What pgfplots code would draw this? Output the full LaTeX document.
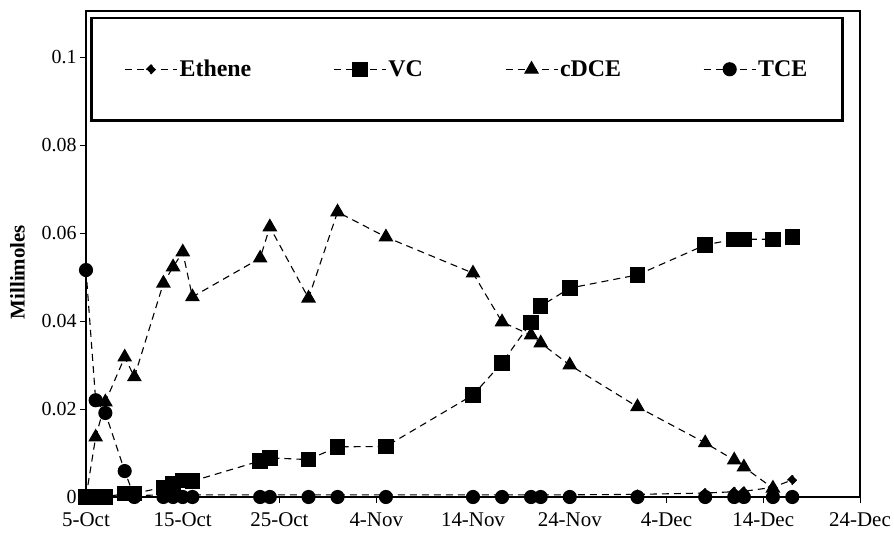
\documentclass[border=0pt]{standalone}
\usepackage{pgfplots}
\pgfplotsset{compat=1.18}
\usepackage{pgfplotstable}
\usepackage{fontspec}
\setmainfont{Liberation Serif}

\pgfplotstableread{
day ethene vc tce
0   0      0      0.0516
1   0      0      0.0220
2   0      0      0.0191
4   0.0003 0.0008 0.0059
5   0.0003 0.0008 0
8   0.0005 0.0022 0
9   0.0005 0.0030 0
10  0.0005 0.0038 0
11  0.0005 0.0036 0
18  0.0005 0.0082 0
19  0.0005 0.0089 0
23  0.0005 0.0085 0
26  0.0005 0.0114 0
31  0.0005 0.0115 0
40  0.0005 0.0232 0
43  0.0005 0.0305 0
46  0.0005 0.0397 0
47  0.0005 0.0434 0
50  0.0005 0.0475 0
57  0.0006 0.0505 0
64  0.0009 0.0573 0
67  0.0012 0.0586 0
68  0.0013 0.0586 0
71  0.0022 0.0586 0
73  0.0039 0.0591 0
}\datatab

\pgfplotstableread{
day cdce
0   0
1   0.0136
2   0.0216
4   0.0318
5   0.0273
8   0.0486
9   0.0523
10  0.0557
11  0.0455
18  0.0543
19  0.0614
23  0.0452
26  0.0648
31  0.0591
40  0.0509
43  0.0398
46  0.0368
47  0.0350
50  0.0300
57  0.0205
64  0.0123
67  0.0084
68  0.0068
71  0.0020
}\cdcetab

\begin{document}
\begin{tikzpicture}
\begin{axis}[
  width=774bp, height=486bp, scale only axis,
  xmin=0, xmax=80, ymin=0, ymax=0.1105,
  xtick={0,10,20,30,40,50,60,70,80},
  xticklabels={5-Oct,15-Oct,25-Oct,4-Nov,14-Nov,24-Nov,4-Dec,14-Dec,24-Dec},
  ytick={0,0.02,0.04,0.06,0.08,0.1},
  yticklabels={0,0.02,0.04,0.06,0.08,0.1},
  xtick pos=bottom, ytick pos=left,
  tick align=outside, major tick length=6bp,
  tick style={black, line width=1bp},
  axis line style={line width=1.3bp},
  /pgf/number format/assume math mode=true,
  xticklabel style={font=\fontsize{21}{24}\selectfont, yshift=-6bp},
  yticklabel style={font=\fontsize{20}{24}\selectfont},
  ylabel={Millimoles},
  ylabel style={at={(axis description cs:-0.0885,0.463)}, anchor=center, font=\fontsize{21}{24}\selectfont\bfseries},
  every axis plot/.append style={black, line width=1.1bp, dash pattern=on 7bp off 5bp, mark options={solid, fill=black}},
  legend columns=4,
  legend image code/.code={\draw[mark repeat=2,mark phase=2,#1] plot coordinates {(0bp,0bp)(26bp,0bp)(52bp,0bp)};},
  legend style={at={(0.4922,0.9877)}, anchor=north, draw=black, line width=2.5bp,
    inner xsep=33bp, inner ysep=40bp,
    font=\fontsize{24}{27}\selectfont\bfseries,
    /tikz/every even column/.append style={column sep=80bp}},
]
\addplot[mark=square*, mark size=3.2bp, mark options={rotate=45}] table[x=day, y=ethene] {\datatab};
\addlegendentry{Ethene}
\addplot[mark=square*, mark size=7.2bp] table[x=day, y=vc] {\datatab};
\addlegendentry{VC}
\addplot[mark=triangle*, mark size=7.5bp] table[x=day, y=cdce] {\cdcetab};
\addlegendentry{cDCE}
\addplot[mark=*, mark size=6.5bp] table[x=day, y=tce] {\datatab};
\addlegendentry{TCE}
\end{axis}
\pgfresetboundingbox
\useasboundingbox ([xshift=-86bp,yshift=-36bp]current axis.south west) rectangle ([xshift=34bp,yshift=11bp]current axis.north east);
\end{tikzpicture}
\end{document}
